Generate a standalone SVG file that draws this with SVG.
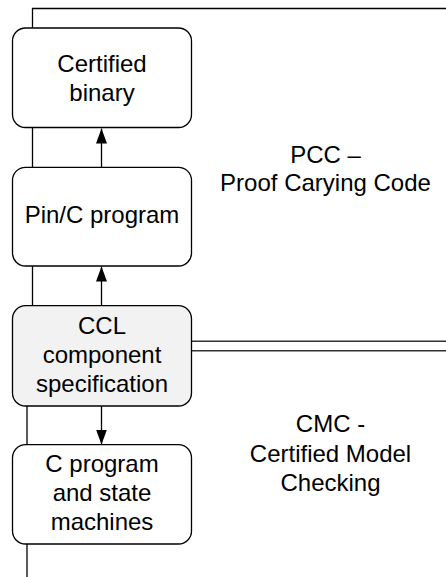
<svg xmlns="http://www.w3.org/2000/svg" width="446" height="577" viewBox="0 0 446 577">
<style>
.node{fill:#fff;stroke:#000;stroke-width:1.3}
.gray{fill:#f2f2f2}
text{font-family:"Liberation Sans",Arial,sans-serif;font-size:24px;fill:#000;text-anchor:middle}
.ln{stroke:#000;stroke-width:1.3;fill:none}
.dbl{stroke:#333;stroke-width:1.5;fill:none}
</style>
<defs>
<marker id="ah" markerWidth="15" markerHeight="12" refX="15" refY="6" orient="auto" markerUnits="userSpaceOnUse">
<path d="M0,0.5 L15,6 L0,11.5 Z" fill="#000"/>
</marker>
</defs>
<g id="connectors">
<path class="ln" d="M32.5,306 V8.5 H446"/>
<path class="ln" d="M27,406 V577"/>
<line class="dbl" x1="191.5" y1="341.3" x2="446" y2="341.3"/>
<line class="dbl" x1="191.5" y1="350.7" x2="446" y2="350.7"/>
<line class="ln" x1="101.5" y1="167" x2="101.5" y2="128.5" marker-end="url(#ah)"/>
<line class="ln" x1="101.5" y1="305.5" x2="101.5" y2="266.5" marker-end="url(#ah)"/>
<line class="ln" x1="101.5" y1="406" x2="101.5" y2="444.5" marker-end="url(#ah)"/>
</g>
<g id="node-certified-binary">
<rect class="node" x="12.5" y="28" width="179" height="99.5" rx="13"/>
<text x="102" y="71.7">Certified</text>
<text x="102" y="100.5">binary</text>
</g>
<g id="node-pinc-program">
<rect class="node" x="12.5" y="167.3" width="179" height="98.7" rx="13"/>
<text x="102" y="223.3">Pin/C program</text>
</g>
<g id="node-ccl">
<rect class="node gray" x="12.5" y="305.7" width="179" height="100.3" rx="13"/>
<text x="102" y="333.5">CCL</text>
<text x="102" y="362.5">component</text>
<text x="102" y="391.5">specification</text>
</g>
<g id="node-c-program">
<rect class="node" x="12.5" y="444.7" width="179" height="99.3" rx="13"/>
<text x="102" y="471.7">C program</text>
<text x="102" y="501">and state</text>
<text x="102" y="530">machines</text>
</g>
<g id="label-pcc">
<text x="325.5" y="162.7">PCC –</text>
<text x="325.5" y="191.3">Proof Carying Code</text>
</g>
<g id="label-cmc">
<text x="330.5" y="432.3">CMC -</text>
<text x="330.5" y="462">Certified Model</text>
<text x="330.5" y="491">Checking</text>
</g>
</svg>
